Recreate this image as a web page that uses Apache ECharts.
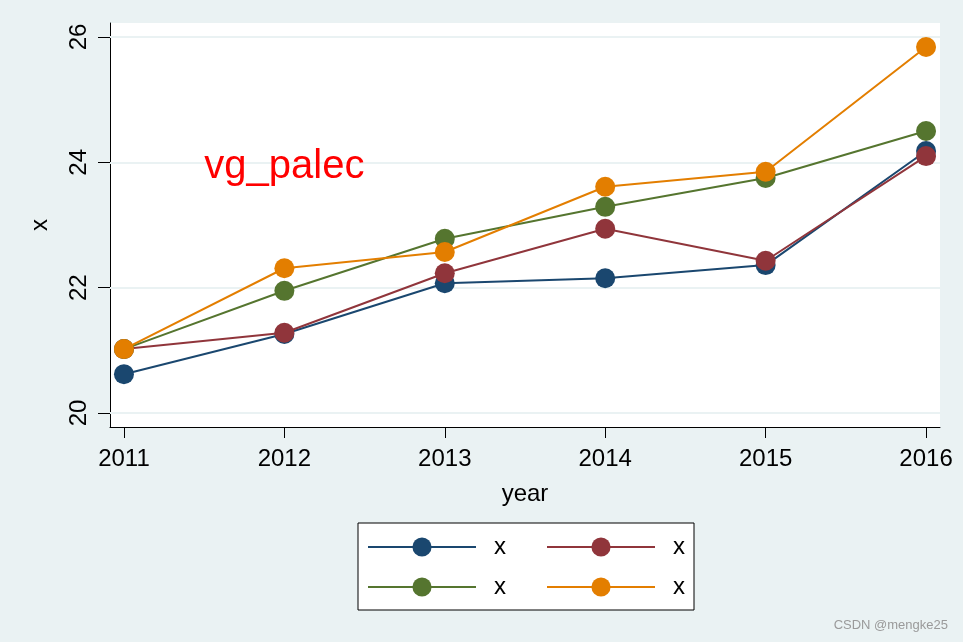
<!DOCTYPE html>
<html>
<head>
<meta charset="utf-8">
<script src="https://cdn.jsdelivr.net/npm/echarts@6/dist/echarts.min.js"></script>
<style>
  html, body { margin: 0; padding: 0; background: #EAF2F3; }
  #chart { width: 963px; height: 642px; }
</style>
</head>
<body>
<div id="chart"></div>
<script>
// data
var years = [2011, 2012, 2013, 2014, 2015, 2016];
var yTicks = [20, 22, 24, 26];
var xBlue = [20.62, 21.26, 22.07, 22.15, 22.36, 24.18];
var xRed = [21.02, 21.28, 22.23, 22.94, 22.43, 24.10];
var xGreen = [21.02, 21.95, 22.78, 23.29, 23.75, 24.50];
var xOrange = [21.02, 22.31, 22.57, 23.61, 23.85, 25.84];
var noteText = "vg_palec";
var notePos = [2012, 24];

var FONT = 'Arial, "Liberation Sans", sans-serif';
var colors = ["#1A476F", "#90353B", "#55752F", "#E37E00"];
var names = ["x1", "x2", "x3", "x4"];
var lists = [xBlue, xRed, xGreen, xOrange];

function pairs(arr) {
  return years.map(function (y, i) { return [y, arr[i]]; });
}

var chart = echarts.init(document.getElementById("chart"));

var series = lists.map(function (arr, i) {
  return {
    name: names[i],
    type: "line",
    data: pairs(arr),
    symbol: "circle",
    symbolSize: 20,
    showAllSymbol: true,
    lineStyle: { color: colors[i], width: 2 },
    itemStyle: { color: colors[i] },
    emphasis: { disabled: true },
    z: 2 + i
  };
});

// the added text
series.push({
  name: "note",
  type: "scatter",
  data: [notePos],
  symbolSize: 0,
  silent: true,
  itemStyle: { color: "#FF0000", opacity: 1 },
  label: {
    show: true,
    position: "inside",
    offset: [0, 5],
    formatter: noteText,
    color: "#FF0000",
    opacity: 1,
    textBorderWidth: 0,
    fontSize: 40,
    fontFamily: FONT
  },
  z: 10
});

// gridlines
series.push({
  name: "grid",
  type: "line",
  data: [],
  silent: true,
  markLine: {
    silent: true,
    z: 1,
    symbol: "none",
    label: { show: false },
    lineStyle: { color: "#EAF2F3", width: 2, type: "solid" },
    data: yTicks.map(function (v) { return { yAxis: v }; })
  },
  z: 1
});

var legendText = {
  color: "#000",
  fontSize: 24,
  fontFamily: FONT,
  padding: [0, 0, 0, 13]
};

var option = {
  backgroundColor: "#EAF2F3",
  animation: false,
  grid: {
    left: 110,
    right: 23,
    top: 23,
    bottom: 215,
    show: true,
    backgroundColor: "#FFFFFF",
    borderWidth: 0
  },
  xAxis: {
    type: "value",
    min: 2010.913,
    max: 2016.087,
    name: "year",
    nameLocation: "middle",
    nameGap: 55,
    nameTextStyle: { color: "#000", fontSize: 24, fontFamily: FONT },
    axisLine: { show: true, onZero: false, lineStyle: { color: "#000", width: 1 } },
    axisTick: { show: true, length: 11, customValues: years, lineStyle: { color: "#000" } },
    axisLabel: {
      customValues: years,
      color: "#000",
      fontSize: 24,
      fontFamily: FONT,
      margin: 20,
      formatter: function (v) { return String(v); }
    },
    splitLine: { show: false }
  },
  yAxis: {
    type: "value",
    min: 19.777,
    max: 26.223,
    name: "x",
    nameLocation: "middle",
    nameGap: 58,
    nameTextStyle: { color: "#000", fontSize: 24, fontFamily: FONT },
    axisLine: { show: true, onZero: false, lineStyle: { color: "#000", width: 1 } },
    axisTick: { show: true, length: 12, customValues: yTicks, lineStyle: { color: "#000" } },
    axisLabel: {
      customValues: yTicks,
      rotate: 90,
      color: "#000",
      fontSize: 24,
      fontFamily: FONT,
      margin: 19,
      formatter: function (v) { return String(v); }
    },
    splitLine: { show: false }
  },
  legend: [
    {
      data: [names[0], names[1]],
      left: 358,
      top: 523,
      orient: "horizontal",
      itemWidth: 108,
      itemHeight: 24,
      itemGap: 40,
      padding: [12, 9, 51, 9],
      backgroundColor: "#FFFFFF",
      borderColor: "#000",
      borderWidth: 1,
      borderRadius: 0,
      selectedMode: false,
      formatter: function () { return "x"; },
      textStyle: legendText
    },
    {
      data: [names[2], names[3]],
      left: 358,
      top: 563,
      orient: "horizontal",
      itemWidth: 108,
      itemHeight: 24,
      itemGap: 40,
      padding: [12, 9, 11, 9],
      selectedMode: false,
      formatter: function () { return "x"; },
      textStyle: legendText,
      z: 5
    }
  ],
  graphic: [
    {
      type: "text",
      right: 15,
      bottom: 10,
      style: {
        text: "CSDN @mengke25",
        fill: "#9A9A9A",
        font: '13px ' + FONT
      }
    }
  ],
  series: series
};

chart.setOption(option);
</script>
</body>
</html>
